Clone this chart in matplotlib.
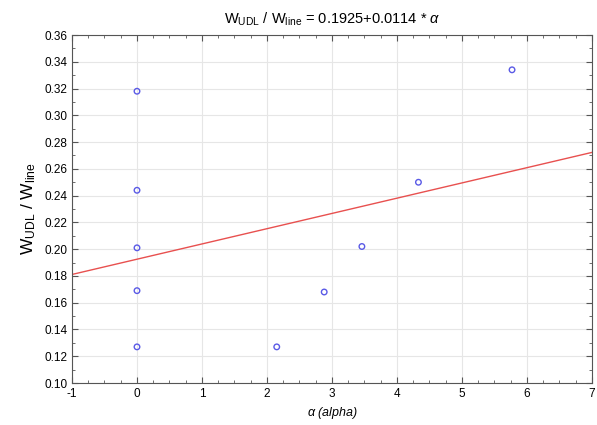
import matplotlib
matplotlib.use("Agg")
import matplotlib.pyplot as plt
from matplotlib.ticker import MultipleLocator, FormatStrFormatter

plt.rcParams['font.family'] = ['Liberation Sans', 'DejaVu Sans']
plt.rcParams['mathtext.fontset'] = 'custom'
plt.rcParams['mathtext.rm'] = 'Liberation Sans'
plt.rcParams['mathtext.it'] = 'Liberation Sans:italic'
plt.rcParams['axes.unicode_minus'] = False

# data
alpha = [0.0, 0.0, 0.0, 0.0, 0.0, 2.15, 2.88, 3.46, 4.33, 5.77]
ratio = [0.318, 0.244, 0.201, 0.169, 0.127, 0.127, 0.168, 0.202, 0.250, 0.334]
intercept = 0.1925
slope = 0.0114
x_fit = [-1, 7]

fig = plt.figure(figsize=(5.97, 4.25), dpi=100)
ax = fig.add_axes([0.1206, 0.0988, 0.871, 0.8188])

y_fit = [intercept + slope * v for v in x_fit]
ax.plot(x_fit, y_fit, color='#e8504f', lw=1.0, zorder=2)
ax.scatter(alpha, ratio, s=16, facecolors='none', edgecolors='#5a5ae6',
           linewidths=1.0, zorder=3)

ax.set_xlim(-1, 7)
ax.set_ylim(0.10, 0.36)
ax.xaxis.set_major_locator(MultipleLocator(1))
ax.xaxis.set_minor_locator(MultipleLocator(0.25))
ax.yaxis.set_major_locator(MultipleLocator(0.02))
ax.yaxis.set_minor_locator(MultipleLocator(0.01))
ax.yaxis.set_major_formatter(FormatStrFormatter('%.2f'))
ax.tick_params(which='both', direction='in', top=True, right=True,
               labelsize=8.5, color='#555555')
ax.tick_params(which='major', length=4)
ax.tick_params(which='minor', length=2.5)
ax.grid(True, which='major', color='#e6e6e6', linestyle='-', linewidth=0.8)
for s in ax.spines.values():
    s.set_color('#555555')

ax.set_title(r'W$_{\mathrm{UDL}}$ / W$_{\mathrm{line}}$ = 0.1925+0.0114 * $\mathit{\alpha}$',
             fontsize=10.5, pad=8)
ax.set_xlabel(r'$\mathit{\alpha}$ (alpha)', fontsize=9, style='italic')
ax.set_ylabel(r'W$_{\mathrm{UDL}}$ / W$_{\mathrm{line}}$', fontsize=12.5)

fig.savefig('out.png', dpi=100)
